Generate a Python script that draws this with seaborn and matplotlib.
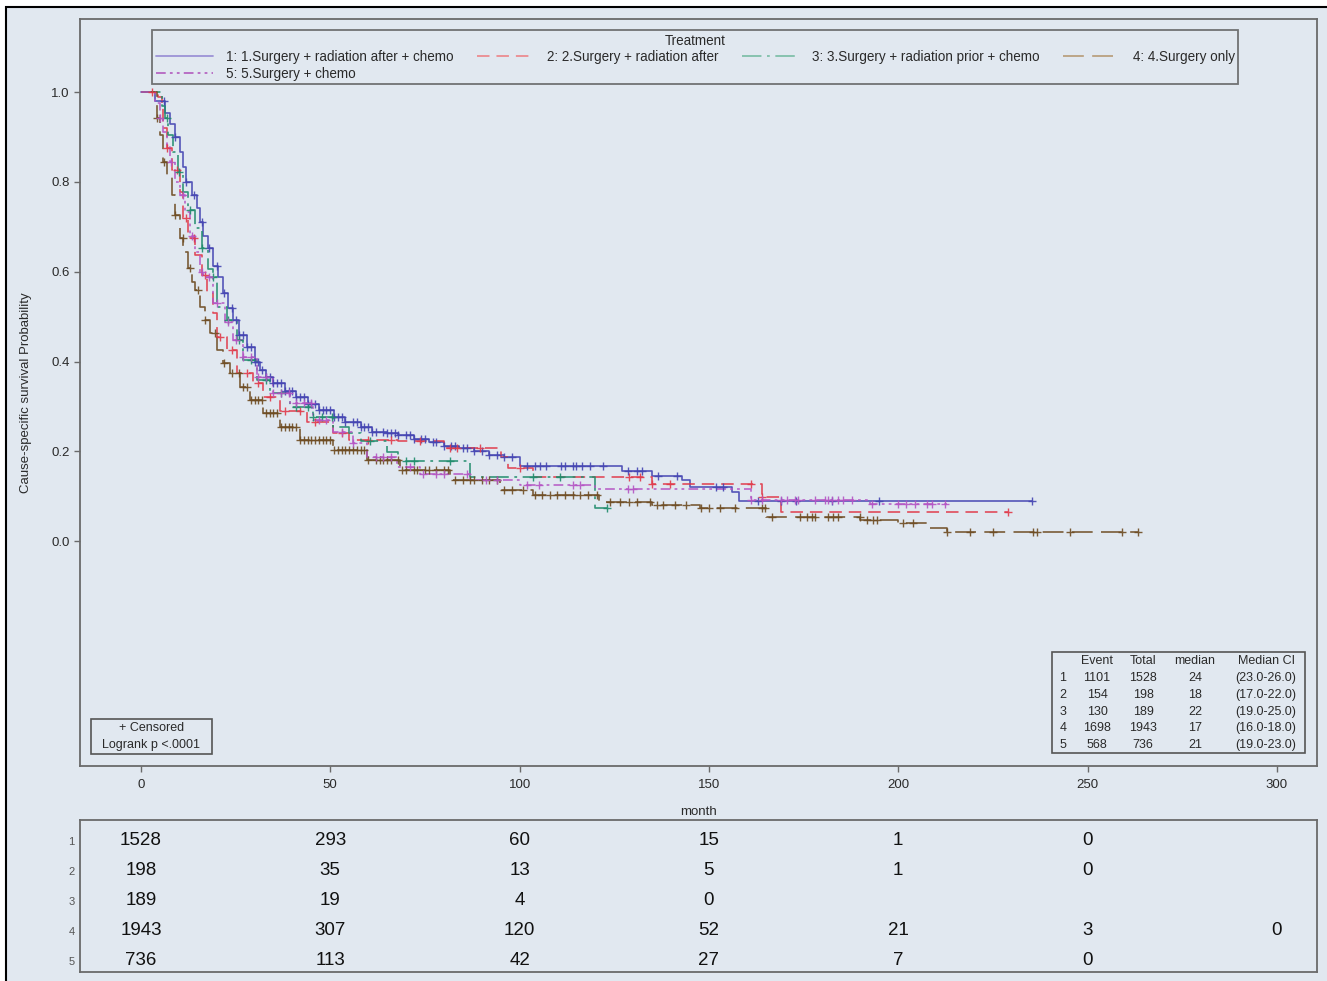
import numpy as np
import pandas as pd
import matplotlib.pyplot as plt
import seaborn as sns
from matplotlib.lines import Line2D
from matplotlib.patches import Rectangle

# survival curves (step knots) : month -> survival
t1 = [0, 3.7, 6.3, 7.7, 9, 10.3, 11, 12, 13.5, 14.7, 15.6, 16.4, 17.7, 19, 20.3, 21.7, 23, 24.3, 26, 28, 30, 31.4, 33, 35, 38, 41, 44, 47, 51, 54, 58, 61, 65, 68, 72, 76, 80, 84, 88, 92, 96, 100, 127, 135, 143, 145, 156, 158, 235.3]
s1 = [1.0, 0.98, 0.953, 0.93, 0.90, 0.866, 0.833, 0.80, 0.77, 0.742, 0.71, 0.68, 0.652, 0.613, 0.588, 0.552, 0.52, 0.492, 0.46, 0.432, 0.40, 0.381, 0.365, 0.352, 0.335, 0.321, 0.306, 0.292, 0.277, 0.265, 0.255, 0.243, 0.240, 0.236, 0.228, 0.220, 0.212, 0.207, 0.200, 0.192, 0.187, 0.167, 0.156, 0.145, 0.136, 0.12, 0.109, 0.089, 0.089]

t2 = [0, 4.5, 5.5, 5.9, 6.8, 8.2, 10.3, 11.1, 12.4, 14.3, 16, 17.4, 19, 20, 22.7, 25.3, 29.6, 32.2, 36.7, 43.8, 50.7, 55, 68, 80, 95, 97, 103.6, 135, 164, 169, 229]
s2 = [1.0, 0.99, 0.964, 0.92, 0.875, 0.826, 0.777, 0.72, 0.675, 0.637, 0.592, 0.552, 0.508, 0.455, 0.425, 0.374, 0.352, 0.32, 0.29, 0.265, 0.24, 0.225, 0.222, 0.207, 0.187, 0.163, 0.143, 0.127, 0.098, 0.065, 0.065]

t3 = [0, 5.5, 6.3, 7.1, 8.5, 9.8, 11.1, 12.4, 14.3, 16, 17.7, 19, 20, 22.7, 25.3, 27, 30.6, 34, 39.3, 45.4, 50.7, 55, 58, 65, 68, 87, 120, 123]
s3 = [1.0, 0.97, 0.942, 0.904, 0.866, 0.822, 0.777, 0.737, 0.697, 0.652, 0.606, 0.588, 0.521, 0.492, 0.448, 0.403, 0.359, 0.33, 0.298, 0.276, 0.254, 0.24, 0.222, 0.198, 0.178, 0.143, 0.073, 0.073]

t4 = [0, 4.2, 5, 5.9, 6.8, 8.2, 9, 10.3, 11.1, 12.4, 13.5, 14.3, 15.6, 16.9, 18.2, 20, 21.7, 23.5, 26.1, 28.8, 32.2, 36.7, 42, 50.7, 59.7, 68.4, 81.6, 94.8, 103.5, 121, 135, 147.6, 165, 190, 200, 208, 213, 263.3]
s4 = [1.0, 0.942, 0.904, 0.844, 0.815, 0.77, 0.726, 0.675, 0.643, 0.608, 0.577, 0.559, 0.521, 0.492, 0.463, 0.425, 0.396, 0.374, 0.343, 0.314, 0.285, 0.254, 0.225, 0.203, 0.18, 0.158, 0.136, 0.114, 0.102, 0.087, 0.08, 0.073, 0.053, 0.047, 0.04, 0.03, 0.02, 0.02]

t5 = [0, 3.7, 5, 5.9, 6.8, 7.7, 9, 10.3, 11.6, 13, 14.3, 15.6, 16.5, 19, 22.2, 24.3, 27, 30.6, 35, 39.3, 45.4, 50.7, 56, 59.7, 67.6, 73.7, 87, 100, 120, 161, 192.5, 213]
s5 = [1.0, 0.975, 0.942, 0.911, 0.877, 0.844, 0.80, 0.77, 0.733, 0.68, 0.643, 0.60, 0.588, 0.53, 0.488, 0.448, 0.41, 0.365, 0.33, 0.307, 0.27, 0.243, 0.218, 0.187, 0.165, 0.149, 0.136, 0.125, 0.116, 0.091, 0.082, 0.082]

# censoring times
c1 = [6, 9, 12, 14, 16, 18, 20, 22, 24, 25, 26, 27, 28, 29, 30, 31, 32, 33, 34, 35, 36, 37, 38, 39, 40, 41, 42, 43, 44, 45, 46, 47, 48, 49, 50, 51, 52, 53, 54, 56, 57, 58, 59, 60, 61, 62, 64, 65, 66, 67, 68, 70, 71, 72, 74, 75, 77, 78, 80, 82, 83, 85, 86, 88, 90, 92, 94, 96, 98, 102, 104, 105.5, 107, 111, 112, 114, 115, 116.5, 118.5, 122, 128.6, 131, 132.3, 136.5, 141.5, 152, 153.7, 163, 169, 173, 182.5, 195, 235.3]
c2 = [3, 7, 9.5, 12, 14, 17, 21, 24, 28, 31, 34, 38, 42, 46, 53, 60, 66, 73.7, 81.6, 83.4, 89.5, 100, 129, 131.8, 135, 139.7, 161, 164, 229]
c3 = [7, 10, 13, 16, 19, 23, 26, 29, 33, 37, 41, 44, 45.4, 47.8, 50.4, 60.5, 70, 72, 81.6, 103.5, 110.6, 123]
c4 = [4.2, 6, 9, 11, 13, 15, 17, 19.5, 22, 24, 26, 27, 28, 29, 30, 31, 32, 33, 34, 35, 36, 37, 38, 39, 40, 41, 42, 43, 44, 45, 46, 47, 48, 49, 50, 51, 52, 53, 54, 55, 56, 57, 58, 59, 60, 62, 63, 64, 65, 66, 68, 69, 70, 72, 73, 75, 76, 78, 80, 81, 83, 85, 87, 88, 90, 92, 94, 96, 98, 101, 104, 106, 108, 110, 112, 114, 116, 118, 120.4, 123.9, 126.5, 129, 131, 134.4, 136.3, 137.8, 141, 144, 148, 150, 153, 157, 164, 164.8, 166.6, 174, 175.9, 177.2, 178, 181.4, 182.7, 184, 189.9, 191.7, 193.3, 194.4, 201.2, 203.9, 213, 219, 225, 235.5, 236.6, 245.3, 259, 263.3]
c5 = [5, 8, 11, 13.5, 16, 18, 20, 23, 25, 27, 29, 31, 33, 35, 37, 39, 41, 43, 45, 47, 49, 53, 56, 62, 64, 66, 71, 74.5, 78, 80, 86, 91, 94, 102, 105, 114, 116, 128.6, 130, 161, 164, 169, 170.6, 172.7, 173.5, 178, 180.6, 181.4, 182.5, 184, 185.4, 187.8, 193, 200, 202, 204.4, 207.6, 209, 212.3]

labels = ["1: 1.Surgery + radiation after + chemo", "2: 2.Surgery + radiation after",
          "3: 3.Surgery + radiation prior + chemo", "4: 4.Surgery only", "5: 5.Surgery + chemo"]
colors = ["#4545b2", "#e03a4a", "#1f8c6c", "#6e4c22", "#b455c4"]
leg_colors = ["#9c92d6", "#ec8c90", "#80c0aa", "#baa080", "#b566c2"]
dash_pat = [None, (9, 5), (14, 4, 2, 4), (15, 6), (7, 3, 2, 3, 2, 3)]

# number at risk
risk_times = [0, 50, 100, 150, 200, 250, 300]
risk1 = [1528, 293, 60, 15, 1, 0]
risk2 = [198, 35, 13, 5, 1, 0]
risk3 = [189, 19, 4, 0]
risk4 = [1943, 307, 120, 52, 21, 3, 0]
risk5 = [736, 113, 42, 27, 7, 0]

# summary table
stat_event = [1101, 154, 130, 1698, 568]
stat_total = [1528, 198, 189, 1943, 736]
stat_median = [24, 18, 22, 17, 21]
stat_ci = ["(23.0-26.0)", "(17.0-22.0)", "(19.0-25.0)", "(16.0-18.0)", "(19.0-23.0)"]

sns.set_theme(style="ticks")
plt.rcParams["font.family"] = ["Liberation Sans", "DejaVu Sans"]
plt.rcParams["lines.scale_dashes"] = False
bg = "#e1e8f0"
frame = "#6a6a6a"
txt = "#2a2a2a"

W, H = 1327, 981
fig = plt.figure(figsize=(W / 100, H / 100), dpi=100, facecolor="white")
fig.patches.append(Rectangle((6 / W, -0.05), 1.1, 1 - 7 / H + 0.05, transform=fig.transFigure,
                             facecolor=bg, edgecolor="black", linewidth=1.5, zorder=-10))

ax = fig.add_axes([80 / W, 1 - 766 / H, (1317 - 80) / W, (766 - 19) / H])
axr = fig.add_axes([80 / W, 1 - 972 / H, (1317 - 80) / W, (972 - 820) / H])

times = [t1, t2, t3, t4, t5]
survs = [s1, s2, s3, s4, s5]
cens = [c1, c2, c3, c4, c5]

for i in range(5):
    df = pd.DataFrame({"month": times[i], "surv": survs[i]})
    sns.lineplot(data=df, x="month", y="surv", ax=ax, estimator=None, sort=False,
                 drawstyle="steps-post", color=colors[i], linewidth=1.2, alpha=0.9)
    if dash_pat[i] is not None:
        ax.lines[-1].set_linestyle((0, dash_pat[i]))
    tt = np.array(times[i])
    ss = np.array(survs[i])
    cy = [ss[np.searchsorted(tt, c, side="right") - 1] for c in cens[i]]
    sns.scatterplot(x=cens[i], y=cy, ax=ax, marker="+", s=40, color=colors[i],
                    linewidth=1.0, alpha=0.9, zorder=3)

ax.set_facecolor(bg)
ax.set_xlim(-16.1, 310.6)
ax.set_ylim(-0.501, 1.163)
ax.set_xticks(risk_times)
ax.set_yticks([0, 0.2, 0.4, 0.6, 0.8, 1.0])
ax.set_yticklabels(["0.0", "0.2", "0.4", "0.6", "0.8", "1.0"])
ax.tick_params(colors=frame, labelcolor=txt, labelsize=9.5, length=4, width=1)
ax.tick_params(axis="x", pad=5.5)
ax.set_xlabel("month", fontsize=9.5, color=txt, labelpad=11)
ax.set_ylabel("Cause-specific survival Probability", fontsize=9.5, color=txt, labelpad=14)
for sp in ax.spines.values():
    sp.set_color(frame)
    sp.set_linewidth(1.3)

handles = []
for i in [0, 4, 1, 2, 3]:
    ls = "-" if dash_pat[i] is None else (0, dash_pat[i])
    handles.append(Line2D([], [], color=leg_colors[i], linewidth=1.3, linestyle=ls, label=labels[i]))
leg = ax.legend(handles=handles, title="Treatment", ncol=4, loc="upper left",
                bbox_to_anchor=((152 - 80) / 1237, (766 - 30) / 747), borderaxespad=0,
                fontsize=9.75, title_fontsize=9.75, frameon=True, fancybox=False,
                handlelength=4.2, handletextpad=0.95, columnspacing=1.75,
                labelspacing=0.18, borderpad=0.28, facecolor=bg, edgecolor="#555555")
leg.get_frame().set_linewidth(1.3)
for t in leg.get_texts():
    t.set_color(txt)
leg.get_title().set_color(txt)


def fx(px):
    return (px - 80) / 1237


def fy(py):
    return (766 - py) / 747


# censored / logrank box
ax.add_patch(Rectangle((fx(91), fy(754)), (212 - 91) / 1237, (754 - 719) / 747,
                       transform=ax.transAxes, facecolor="none", edgecolor="#555555", linewidth=1.2))
ax.text(fx(151.5), fy(728), "+ Censored", transform=ax.transAxes, ha="center", va="center",
        fontsize=9, color=txt)
ax.text(fx(151.5), fy(745), "Logrank p <.0001", transform=ax.transAxes, ha="center", va="center",
        fontsize=9, color=txt)

# summary table box
ax.add_patch(Rectangle((fx(1052), fy(753)), (1305 - 1052) / 1237, (753 - 652) / 747,
                       transform=ax.transAxes, facecolor="none", edgecolor="#555555", linewidth=1.2))
col_x = [1097, 1143, 1195, 1266]
heads = ["Event", "Total", "median", "Median CI"]
for cx, h in zip(col_x, heads):
    ax.text(fx(cx), fy(661), h, transform=ax.transAxes, ha="center", va="center", fontsize=9, color=txt)
for r in range(5):
    yy = fy(678 + r * 16.8)
    ax.text(fx(1063), yy, str(r + 1), transform=ax.transAxes, ha="center", va="center", fontsize=9, color=txt)
    vals = [stat_event[r], stat_total[r], stat_median[r], stat_ci[r]]
    for cx, v in zip(col_x, vals):
        ax.text(fx(cx), yy, str(v), transform=ax.transAxes, ha="center", va="center", fontsize=9, color=txt)

# number at risk table
axr.set_facecolor(bg)
axr.set_xlim(-16.1, 310.6)
axr.set_ylim(5.367, 0.3)
risks = [risk1, risk2, risk3, risk4, risk5]
for r in range(5):
    for j, v in enumerate(risks[r]):
        axr.text(risk_times[j], r + 1, str(v), ha="center", va="center", fontsize=13.5, color="#111111")
axr.set_xticks([])
axr.set_yticks([1, 2, 3, 4, 5])
axr.set_yticklabels(["1", "2", "3", "4", "5"])
axr.tick_params(axis="y", length=0, pad=4, labelsize=8, labelcolor="#555555")
for sp in axr.spines.values():
    sp.set_color(frame)
    sp.set_linewidth(1.3)

fig.savefig("out.png", dpi=100, facecolor="white")
